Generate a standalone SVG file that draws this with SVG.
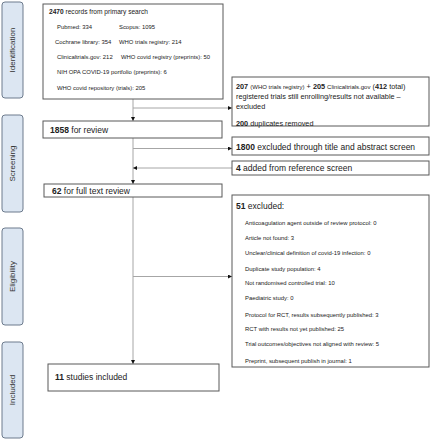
<svg xmlns="http://www.w3.org/2000/svg" width="431" height="440" viewBox="0 0 431 440">
<style>
text{font-family:"Liberation Sans",Arial,sans-serif;fill:#222}
.side rect{fill:#dce6f2;stroke:#6d7b8d;stroke-width:1}
.side text{font-size:8px;fill:#333;text-anchor:middle}
.box{fill:#fff;stroke:#595959;stroke-width:1}
.t1{font-size:6.6px}
.t4{font-size:7.3px}
.t2{font-size:5.9px}
.t3{font-size:8.5px}
.sm{font-size:6px}
.b{font-weight:bold}
.conn line{stroke:#a6a6a6;stroke-width:1}
</style>
<defs>
<marker id="ah" viewBox="0 0 10 10" refX="10" refY="5" markerWidth="4" markerHeight="4" orient="auto" markerUnits="userSpaceOnUse">
<path d="M0,0 L10,5 L0,10 z" fill="#111"/>
</marker>
</defs>
<rect width="431" height="440" fill="#fff"/>

<g id="side-identification" class="side"><rect x="2" y="2" width="21" height="96" rx="3"/><text transform="translate(15,50) rotate(-90)">Identification</text></g>
<g id="side-screening" class="side"><rect x="2" y="115" width="21" height="97" rx="3"/><text transform="translate(15,163.5) rotate(-90)">Screening</text></g>
<g id="side-eligibility" class="side"><rect x="2" y="228" width="21" height="97" rx="3"/><text transform="translate(15,276.5) rotate(-90)">Eligibility</text></g>
<g id="side-included" class="side"><rect x="2" y="342" width="21" height="96" rx="3"/><text transform="translate(15,390) rotate(-90)">Included</text></g>

<g class="conn" id="connectors">
<line x1="133" y1="99" x2="133" y2="121" marker-end="url(#ah)"/>
<line x1="133" y1="108" x2="232" y2="108" marker-end="url(#ah)"/>
<line x1="133" y1="138" x2="133" y2="184" marker-end="url(#ah)"/>
<line x1="133" y1="148.5" x2="232" y2="148.5" marker-end="url(#ah)"/>
<line x1="232" y1="168" x2="133" y2="168" marker-end="url(#ah)"/>
<line x1="133" y1="197" x2="133" y2="364" marker-end="url(#ah)"/>
<line x1="133" y1="276.5" x2="232" y2="276.5" marker-end="url(#ah)"/>
</g>

<g id="records">
<rect class="box" x="43" y="4" width="180" height="95"/>
<text class="t1" x="49" y="14"><tspan class="b">2470</tspan> records from primary search</text>
<text class="t2" x="57" y="29">Pubmed: 334</text>
<text class="t2" x="119" y="29">Scopus: 1095</text>
<text class="t2" x="55" y="44">Cochrane library: 354</text>
<text class="t2" x="119" y="44">WHO trials registry: 214</text>
<text class="t2" x="57" y="59">Clinicaltrials.gov: 212</text>
<text class="t2" x="121" y="59">WHO covid registry (preprints): 50</text>
<text class="t2" x="57" y="74">NIH OPA COVID-19 portfolio (preprints): 6</text>
<text class="t2" x="57" y="90">WHO covid repository (trials): 205</text>
</g>

<g id="registered-excluded">
<rect class="box" x="232" y="77" width="197" height="49"/>
<text class="t4" x="236" y="88.5"><tspan class="b">207</tspan> <tspan class="sm">(WHO trials registry)</tspan> + <tspan class="b">205</tspan> <tspan class="sm">Clinicaltrials.gov</tspan> (<tspan class="b">412</tspan> total)</text>
<text class="t4" x="236" y="98.5">registered trials still enrolling/results not available –</text>
<text class="t4" x="236" y="108.5">excluded</text>
<text class="t4" x="236" y="125.5"><tspan class="b">200</tspan> duplicates removed</text>
</g>

<g id="for-review">
<rect class="box" x="43" y="121" width="179" height="17"/>
<text class="t3" x="50" y="132.5"><tspan class="b">1858</tspan> for review</text>
</g>

<g id="title-abstract-excluded">
<rect class="box" x="232" y="137" width="197" height="18"/>
<text class="t3" x="236" y="149.5"><tspan class="b">1800</tspan> excluded through title and abstract screen</text>
</g>

<g id="reference-added">
<rect class="box" x="232" y="161" width="197" height="14"/>
<text class="t3" x="236" y="171"><tspan class="b">4</tspan> added from reference screen</text>
</g>

<g id="full-text">
<rect class="box" x="44" y="184" width="178" height="13"/>
<text class="t3" x="52" y="193.8"><tspan class="b">62</tspan> for full text review</text>
</g>

<g id="full-text-excluded">
<rect class="box" x="232" y="195" width="197" height="172"/>
<text class="t3" x="236" y="209"><tspan class="b">51</tspan> excluded:</text>
<text class="t2" x="245" y="225">Anticoagulation agent outside of review protocol: 0</text>
<text class="t2" x="245" y="240">Article not found: 3</text>
<text class="t2" x="245" y="255">Unclear/clinical definition of covid-19 infection: 0</text>
<text class="t2" x="245" y="271">Duplicate study population: 4</text>
<text class="t2" x="245" y="285">Not randomised controlled trial: 10</text>
<text class="t2" x="245" y="300">Paediatric study: 0</text>
<text class="t2" x="245" y="317">Protocol for RCT, results subsequently published: 3</text>
<text class="t2" x="245" y="331">RCT with results not yet published: 25</text>
<text class="t2" x="245" y="346">Trial outcomes/objectives not aligned with review: 5</text>
<text class="t2" x="245" y="363">Preprint, subsequent publish in journal: 1</text>
</g>

<g id="included">
<rect class="box" x="48" y="364" width="171" height="27"/>
<text class="t3" x="55" y="380"><tspan class="b">11</tspan> studies included</text>
</g>
</svg>
